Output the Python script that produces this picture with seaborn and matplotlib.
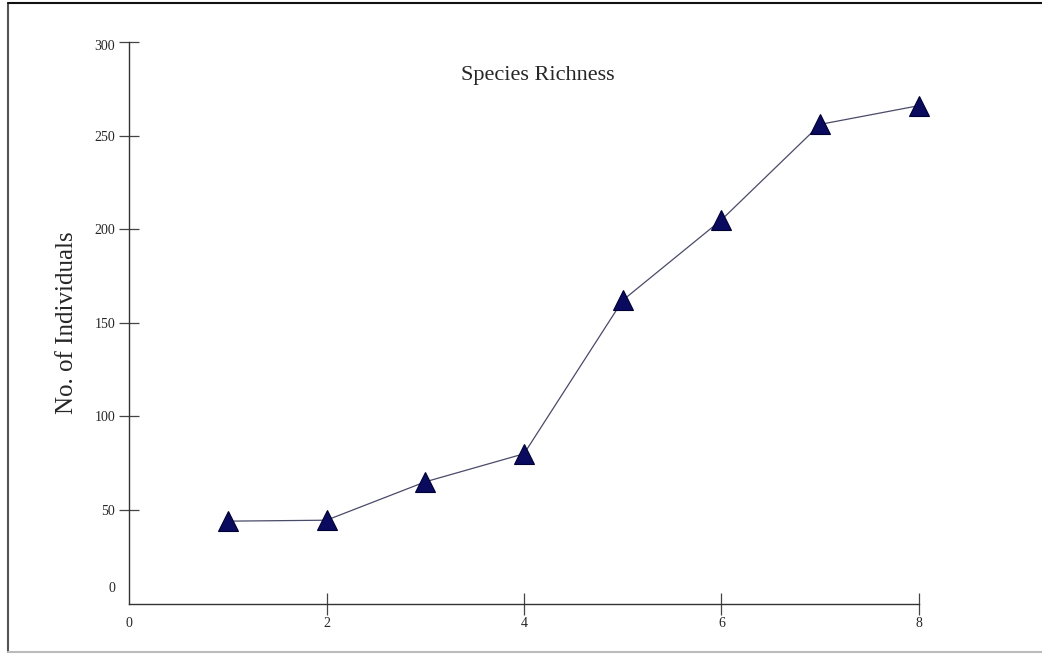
import matplotlib
matplotlib.use("Agg")
import matplotlib.pyplot as plt
import matplotlib.transforms as mtransforms
from matplotlib.lines import Line2D
import seaborn as sns
import pandas as pd

sites = [1, 2, 3, 4, 5, 6, 7, 8]
individuals = [44, 44.5, 65, 80, 162, 205, 256, 266]
x_ticks = [0, 2, 4, 6, 8]
y_ticks = [0, 50, 100, 150, 200, 250, 300]
title = "Species Richness"
ylabel = "No. of Individuals"

sns.set_style("white")
plt.rcParams['font.family'] = ['Liberation Serif', 'DejaVu Serif']

df = pd.DataFrame({"site": sites, "n": individuals})

fig = plt.figure(figsize=(10.42, 6.55), dpi=100)
ax = fig.add_axes([129/1042, 51.5/655, (919-129)/1042, (613-51.5)/655])

sns.lineplot(data=df, x="site", y="n", ax=ax, color="#4a4a6a", lw=0.9,
             marker="^", markersize=14, markerfacecolor="#0a0a5e",
             markeredgecolor="#000033", markeredgewidth=0.8, clip_on=False)

ax.set_xlim(0, 8)
ax.set_ylim(0, 300)
ax.set_xticks(x_ticks)
ax.set_yticks(y_ticks)
ax.set_xticklabels([str(v) for v in x_ticks], fontsize=10)
ax.set_yticklabels([str(v) for v in y_ticks], fontsize=10)
ax.set_xlabel("")
ax.set_ylabel(ylabel, fontsize=18, labelpad=12)
ax.text(0.518, 0.94, title, transform=ax.transAxes, ha="center", va="center", fontsize=16)

for s in ["top", "right"]:
    ax.spines[s].set_visible(False)
for s in ["left", "bottom"]:
    ax.spines[s].set_color("#333333")
    ax.spines[s].set_linewidth(1.0)

ax.tick_params(axis="y", left=True, direction="inout", length=14, width=0.9, color="#444444", pad=3)
ax.tick_params(axis="x", bottom=True, direction="inout", length=16, width=0.9, color="#444444", pad=2)

# no tick marks at the origin
ax.xaxis.get_major_ticks()[0].tick1line.set_visible(False)
ax.yaxis.get_major_ticks()[0].tick1line.set_visible(False)

# shift the 0 label on y axis up slightly like reference
ylbls = ax.get_yticklabels()
off = mtransforms.ScaledTranslation(0, 17/100, fig.dpi_scale_trans)
ylbls[0].set_transform(ylbls[0].get_transform() + off)
off2 = mtransforms.ScaledTranslation(0, -3/100, fig.dpi_scale_trans)
ylbls[-1].set_transform(ylbls[-1].get_transform() + off2)

# figure border
fig.add_artist(Line2D([7.5/1042, 7.5/1042], [1 - 3/655, 1 - 652/655], transform=fig.transFigure, color="#555555", lw=1.5))
fig.add_artist(Line2D([7.5/1042, 1], [1 - 3/655, 1 - 3/655], transform=fig.transFigure, color="#111111", lw=1.5))
fig.add_artist(Line2D([7.5/1042, 1], [1 - 652/655, 1 - 652/655], transform=fig.transFigure, color="#bbbbbb", lw=1.5))

fig.savefig("out.png", dpi=100)
